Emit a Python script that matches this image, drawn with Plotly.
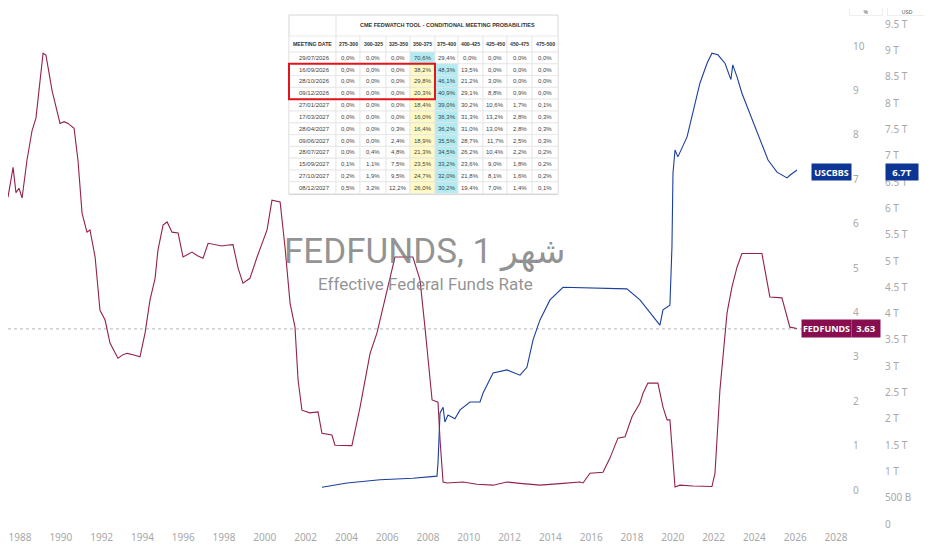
import plotly.graph_objects as go

# ----- FEDFUNDS (monthly effective rate, %)
fed_years = [1987.02, 1987.26, 1987.41, 1987.66, 1987.80, 1987.95, 1988.10, 1988.34, 1988.59, 1988.78,
             1989.13, 1989.27, 1989.57, 1989.81, 1989.96, 1990.16, 1990.35, 1990.65, 1990.84, 1991.04,
             1991.28, 1991.43, 1991.68, 1991.92, 1992.17, 1992.41, 1992.80, 1993.05, 1993.25, 1993.54,
             1993.88, 1994.13, 1994.37, 1994.62, 1994.76, 1995.01, 1995.21, 1995.45, 1995.75, 1995.99,
             1996.20, 1996.43, 1996.70, 1996.97, 1997.22, 1997.60, 1997.90, 1998.20, 1998.44, 1998.69,
             1998.93, 1999.27, 1999.62, 2000.11, 2000.35, 2000.75, 2000.99, 2001.24, 2001.48, 2001.63,
             2001.82, 2002.20, 2002.61, 2002.80, 2003.29, 2003.44, 2004.27, 2004.67, 2005.16, 2005.50,
             2005.99, 2006.38, 2007.26, 2007.61, 2007.85, 2008.20, 2008.49, 2008.59, 2008.74, 2008.93,
             2009.72, 2010.40, 2011.19, 2011.87, 2012.51, 2013.49, 2014.62, 2015.45, 2015.60, 2015.94,
             2016.58, 2016.92, 2017.31, 2017.66, 2018.00, 2018.39, 2018.54, 2018.78, 2019.27, 2019.52,
             2019.72, 2019.86, 2020.11, 2020.35, 2020.99, 2021.92, 2022.07, 2022.31, 2022.66, 2022.90,
             2023.15, 2023.39, 2024.37, 2024.76, 2025.35, 2025.74, 2026.09]
fed_rate = [6.13, 6.82, 6.60, 7.27, 6.70, 6.80, 6.58, 7.43, 8.10, 8.38,
            9.84, 9.80, 9.00, 8.50, 8.26, 8.30, 8.26, 8.15, 7.43, 6.24,
            5.81, 5.86, 5.25, 4.05, 3.83, 3.31, 2.97, 3.05, 3.08, 3.05,
            3.00, 3.54, 4.28, 4.77, 5.40, 5.97, 6.04, 5.81, 5.79, 5.25,
            5.30, 5.36, 5.28, 5.22, 5.56, 5.52, 5.50, 5.52, 5.53, 5.00,
            4.66, 4.77, 5.25, 5.86, 6.53, 6.49, 5.47, 4.20, 3.67, 2.48,
            1.80, 1.74, 1.76, 1.28, 1.24, 1.01, 1.00, 1.87, 3.08, 3.54,
            4.50, 5.25, 5.25, 4.73, 3.67, 2.03, 1.98, 1.13, 0.18, 0.16,
            0.18, 0.13, 0.11, 0.18, 0.15, 0.11, 0.15, 0.18, 0.16, 0.38,
            0.40, 0.72, 1.17, 1.20, 1.65, 1.96, 2.18, 2.41, 2.41, 1.87,
            1.58, 1.58, 0.07, 0.11, 0.09, 0.08, 0.38, 2.25, 3.99, 4.57,
            5.02, 5.33, 5.33, 4.35, 4.33, 3.67, 3.64]

# ----- USCBBS (Fed balance sheet, trillions USD)
bbs_years = [2002.80, 2004.03, 2005.65, 2007.26, 2008.44, 2008.49, 2008.59, 2008.74, 2008.83, 2008.98,
             2009.32, 2009.57, 2010.06, 2010.55, 2010.70, 2011.19, 2011.87, 2012.51, 2012.85, 2013.15,
             2013.49, 2013.98, 2014.62, 2015.45, 2016.58, 2017.75, 2018.39, 2018.88, 2019.37, 2019.52,
             2019.86, 2019.96, 2020.01, 2020.11, 2020.25, 2020.70, 2020.99, 2021.33, 2021.68, 2021.92,
             2022.21, 2022.56, 2022.80, 2022.85, 2022.94, 2023.15, 2023.39, 2023.78, 2024.27, 2024.67,
             2025.11, 2025.60, 2025.74, 2026.09]
bbs_usd = [0.70, 0.78, 0.84, 0.87, 0.91, 1.16, 2.11, 2.22, 1.94, 2.07,
           2.00, 2.17, 2.32, 2.32, 2.49, 2.87, 2.93, 2.83, 2.98, 3.50,
           3.88, 4.26, 4.50, 4.49, 4.47, 4.47, 4.26, 4.03, 3.78, 4.07,
           4.16, 5.27, 6.67, 7.11, 6.98, 7.36, 7.81, 8.38, 8.76, 8.95,
           8.92, 8.76, 8.50, 8.45, 8.73, 8.50, 8.19, 7.81, 7.30, 6.92,
           6.69, 6.58, 6.63, 6.73]

year_ticks = list(range(1988, 2029, 2))
pct_ticks = [0, 1, 2, 3, 4, 5, 6, 7, 8, 9, 10]
usd_ticks = [0, 0.5, 1, 1.5, 2, 2.5, 3, 3.5, 4, 4.5, 5, 5.5, 6, 6.5, 7, 7.5, 8, 8.5, 9, 9.5]
usd_tick_text = ["0", "500 B", "1 T", "1.5 T", "2 T", "2.5 T", "3 T", "3.5 T", "4 T", "4.5 T",
                 "5 T", "5.5 T", "6 T", "6.5 T", "7 T", "7.5 T", "8 T", "8.5 T", "9 T", "9.5 T"]
last_fed = 3.63
last_bbs = 6.7

# ----- CME FedWatch table
meeting_dates = ["29/07/2026", "16/09/2026", "28/10/2026", "09/12/2026", "27/01/2027", "17/03/2027",
                 "28/04/2027", "09/06/2027", "28/07/2027", "15/09/2027", "27/10/2027", "08/12/2027"]
rate_buckets = ["275-300", "300-325", "325-350", "350-375", "375-400",
                "400-425", "425-450", "450-475", "475-500"]
p275_300 = [0.0, 0.0, 0.0, 0.0, 0.0, 0.0, 0.0, 0.0, 0.0, 0.1, 0.2, 0.5]
p300_325 = [0.0, 0.0, 0.0, 0.0, 0.0, 0.0, 0.0, 0.0, 0.4, 1.1, 1.9, 3.2]
p325_350 = [0.0, 0.0, 0.0, 0.0, 0.0, 0.0, 0.3, 2.4, 4.8, 7.5, 9.5, 12.2]
p350_375 = [70.6, 38.2, 29.8, 20.3, 18.4, 16.0, 16.4, 18.9, 21.3, 23.5, 24.7, 26.0]
p375_400 = [29.4, 48.3, 46.1, 40.9, 39.0, 36.3, 36.2, 35.5, 34.5, 33.2, 32.0, 30.2]
p400_425 = [0.0, 13.5, 21.2, 29.1, 30.2, 31.3, 31.0, 28.7, 26.2, 23.6, 21.8, 19.4]
p425_450 = [0.0, 0.0, 3.0, 8.8, 10.6, 13.2, 13.0, 11.7, 10.4, 9.0, 8.1, 7.0]
p450_475 = [0.0, 0.0, 0.0, 0.9, 1.7, 2.8, 2.8, 2.5, 2.2, 1.8, 1.6, 1.4]
p475_500 = [0.0, 0.0, 0.0, 0.0, 0.1, 0.3, 0.3, 0.3, 0.2, 0.2, 0.2, 0.1]
current_bucket = "350-375"
highlighted_meetings = ["16/09/2026", "28/10/2026", "09/12/2026"]

prob_cols = [p275_300, p300_325, p325_350, p350_375, p375_400, p400_425, p425_450, p450_475, p475_500]

# page is shown with the browser's 8px body margin, so the figure is laid out 8px in
OFF = 8
FW, FH = 932 - OFF, 550 - OFF
MB = 20
PH = FH - MB


def px_x(x):
    # reference-screen x pixel -> paper x
    return (x - OFF) / FW


def px_y(y):
    # reference-screen y pixel -> paper y
    return (PH - (y - OFF)) / PH


def note(text, x, y, size, color="#444", family="Liberation Sans, Arial", xanchor="center", **kw):
    return dict(text=text, xref=kw.pop("xref", "paper"), yref=kw.pop("yref", "paper"), x=x, y=y,
                xanchor=xanchor, yanchor="middle", showarrow=False,
                font=dict(family=family, size=size, color=color), **kw)


MAROON = "#880E4F"
BLUE = "#0D3594"
CYAN = "#B2EBF2"
YELLOW = "#FFF9C4"
GRID = "#e4e4e4"

fig = go.Figure()

fig.add_trace(go.Scatter(x=bbs_years, y=bbs_usd, mode="lines", yaxis="y",
                         line=dict(color="#1B3F9E", width=1.1), name="USCBBS"))
fig.add_trace(go.Scatter(x=fed_years, y=fed_rate, mode="lines", yaxis="y2",
                         line=dict(color="#93214F", width=1.1), name="FEDFUNDS"))

shapes = []
annotations = []

# ----- table, drawn cell by cell
col_edges = [289, 336, 360, 386, 410, 435, 458, 483, 507, 532, 558]
title_top, head_top, body_top, row_h = 15, 36, 52, 11.8

shapes.append(dict(type="rect", xref="paper", yref="paper", x0=px_x(col_edges[0]), x1=px_x(col_edges[-1]),
                   y0=px_y(body_top + row_h * len(meeting_dates) + 1), y1=px_y(title_top),
                   fillcolor="white", line=dict(color="#d6d6d6", width=1), layer="above"))
shapes.append(dict(type="line", xref="paper", yref="paper", x0=px_x(col_edges[1]), x1=px_x(col_edges[1]),
                   y0=px_y(head_top), y1=px_y(title_top), line=dict(color=GRID, width=1), layer="above"))
annotations.append(note("<b>CME FEDWATCH TOOL - CONDITIONAL MEETING PROBABILITIES</b>",
                        px_x((col_edges[1] + col_edges[-1]) / 2), px_y((title_top + head_top) / 2),
                        5.5, "#333"))

header = ["MEETING DATE"] + rate_buckets
for j, name in enumerate(header):
    x0, x1 = col_edges[j], col_edges[j + 1]
    shapes.append(dict(type="rect", xref="paper", yref="paper", x0=px_x(x0), x1=px_x(x1),
                       y0=px_y(body_top), y1=px_y(head_top), fillcolor="white",
                       line=dict(color=GRID, width=0.8), layer="above"))
    annotations.append(note(f"<b>{name}</b>", px_x((x0 + x1) / 2), px_y((head_top + body_top) / 2),
                            5.2, "#333"))

for i, date in enumerate(meeting_dates):
    top = body_top + i * row_h
    yc = px_y(top + row_h / 2)
    row_max = max(c[i] for c in prob_cols)
    cells = [(date, "white")]
    for name, col in zip(rate_buckets, prob_cols):
        v = col[i]
        fill = CYAN if v == row_max else (YELLOW if name == current_bucket else "white")
        cells.append((f"{v:.1f}%".replace(".", ","), fill))
    for j, (txt, fill) in enumerate(cells):
        x0, x1 = col_edges[j], col_edges[j + 1]
        shapes.append(dict(type="rect", xref="paper", yref="paper", x0=px_x(x0), x1=px_x(x1),
                           y0=px_y(top + row_h), y1=px_y(top), fillcolor=fill,
                           line=dict(color=GRID, width=0.8), layer="above"))
        if j == 0:
            annotations.append(note(txt, px_x(x1 - 4), yc, 6, xanchor="right"))
        else:
            annotations.append(note(txt, px_x((x0 + x1) / 2), yc, 6))

# red box round the highlighted meetings
first = meeting_dates.index(highlighted_meetings[0])
last = meeting_dates.index(highlighted_meetings[-1])
shapes.append(dict(type="rect", xref="paper", yref="paper", x0=px_x(col_edges[0]), x1=px_x(col_edges[5]),
                   y0=px_y(body_top + (last + 1) * row_h), y1=px_y(body_top + first * row_h),
                   line=dict(color="#E3141C", width=2), layer="above"))

# last-value price line
shapes.append(dict(type="line", xref="paper", yref="y2", x0=0, x1=px_x(803), y0=last_fed, y1=last_fed,
                   line=dict(color="#b5b5b5", width=1, dash="dot"), layer="below"))

WM = "rgba(128,128,128,0.85)"
annotations += [
    note("FEDFUNDS, 1 شهر", px_x(425), px_y(252), 35, WM, "Roboto, DejaVu Sans"),
    note("Effective Federal Funds Rate", px_x(425), px_y(284), 17, WM, "Roboto, DejaVu Sans"),
    note("<b>USCBBS</b>", px_x(831.5), last_bbs, 9, "white", "Noto Sans", yref="y",
         bgcolor=BLUE, width=37, height=14),
    note(f"<b>{last_bbs}T</b>", px_x(902), last_bbs, 9.5, "white", "Noto Sans", yref="y",
         bgcolor=BLUE, width=30, height=14),
    note("<b>FEDFUNDS</b>", px_x(826.5), last_fed, 9, "white", "Noto Sans", yref="y2",
         bgcolor=MAROON, width=47, height=15),
    note(f"<b>{last_fed}</b>", px_x(865.5), last_fed, 9.5, "white", "Noto Sans", yref="y2",
         bgcolor=MAROON, width=26, height=15),
    note("%", px_x(866), px_y(12), 5.5, "#555", "Noto Sans", width=32, height=7, borderpad=0,
         bordercolor="#eeeeee"),
    note("USD", px_x(907), px_y(12), 5.5, "#555", "Noto Sans", width=38, height=7, borderpad=0,
         bordercolor="#eeeeee"),
]

axis_font = dict(family="Noto Sans, DejaVu Sans", size=10, color="#a8a8a8")

fig.update_layout(
    width=FW, height=FH,
    margin=dict(l=0, r=0, t=0, b=MB),
    paper_bgcolor="white", plot_bgcolor="white",
    showlegend=False,
    xaxis=dict(domain=[0, px_x(848)], range=[1987.41, 2028.59], tickvals=year_ticks, tickformat="d",
               showgrid=False, zeroline=False, showline=False, ticks="", tickfont=axis_font),
    yaxis=dict(anchor="free", position=px_x(884), side="right", range=[-0.114, 9.81],
               tickvals=usd_ticks, ticktext=usd_tick_text, showgrid=False, zeroline=False,
               showline=False, ticks="", tickfont=axis_font),
    yaxis2=dict(anchor="free", position=px_x(852), side="right", overlaying="y", range=[-0.90, 10.86],
                tickvals=pct_ticks, showgrid=False, zeroline=False, showline=False, ticks="",
                tickfont=axis_font),
    shapes=shapes,
    annotations=annotations,
)

fig.write_html("out.html")
